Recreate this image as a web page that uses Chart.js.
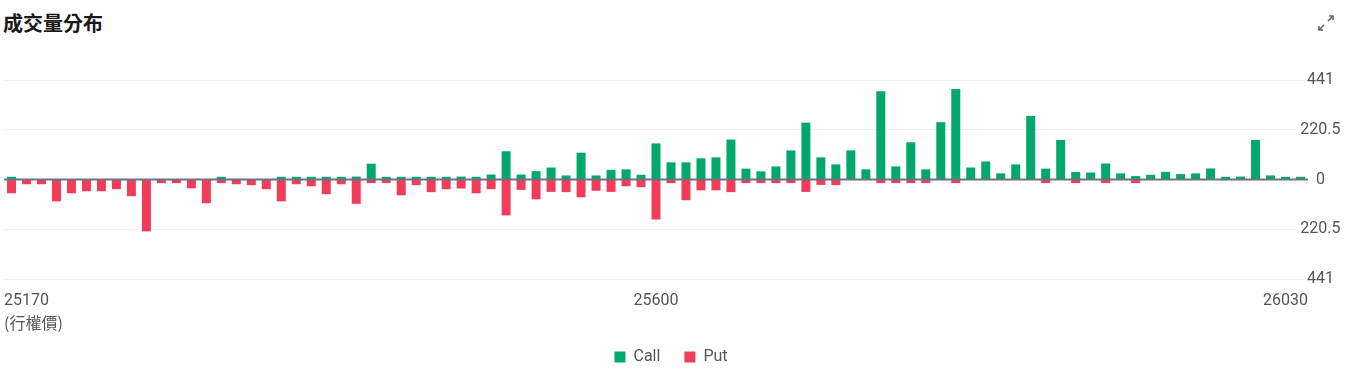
<html>
<head>
<meta charset="utf-8">
<script src="https://cdn.jsdelivr.net/npm/chart.js@4"></script>
<style>
  body { margin: 0; background: #fff; font-family: Roboto, "Noto Sans CJK TC", sans-serif; }
  #title { position: absolute; left: 3px; top: 8px; font-size: 20px; font-weight: 600; color: #1a1a1a;
           font-family: "Noto Sans CJK TC", sans-serif; }
  #expand { position: absolute; left: 1316px; top: 13px; }
  #wrap { position: absolute; left: 0; top: 0; width: 1346px; height: 378px; }
</style>
</head>
<body>
<div id="title">成交量分布</div>
<svg id="expand" width="20" height="20" viewBox="0 0 20 20">
  <g stroke="#666" stroke-width="1.6" fill="none">
    <line x1="12" y1="8" x2="17" y2="3"/><polyline points="13,3 17,3 17,7"/>
    <line x1="8" y1="12" x2="3" y2="17"/><polyline points="3,13 3,17 7,17"/>
  </g>
</svg>
<div id="wrap"><canvas id="myChart"></canvas></div>
<script>
var strikes = [25170, 25180, 25190, 25200, 25210, 25220, 25230, 25240, 25250, 25260,
  25270, 25280, 25290, 25300, 25310, 25320, 25330, 25340, 25350, 25360,
  25370, 25380, 25390, 25400, 25410, 25420, 25430, 25440, 25450, 25460,
  25470, 25480, 25490, 25500, 25510, 25520, 25530, 25540, 25550, 25560,
  25570, 25580, 25590, 25600, 25610, 25620, 25630, 25640, 25650, 25660,
  25670, 25680, 25690, 25700, 25710, 25720, 25730, 25740, 25750, 25760,
  25770, 25780, 25790, 25800, 25810, 25820, 25830, 25840, 25850, 25860,
  25870, 25880, 25890, 25900, 25910, 25920, 25930, 25940, 25950, 25960,
  25970, 25980, 25990, 26000, 26010, 26020, 26030];

var callVolumes = [12, 0, 0, 0, 0, 0, 0, 0, 0, 0,
  0, 0, 0, 0, 12, 0, 0, 0, 12, 12,
  12, 12, 12, 13, 70, 12, 12, 12, 12, 12,
  13, 12, 22, 125, 22, 37, 53, 18, 119, 18,
  43, 45, 21, 160, 76, 76, 94, 98, 177, 48,
  36, 58, 129, 252, 98, 67, 129, 45, 391, 58,
  165, 45, 254, 401, 53, 80, 27, 67, 282, 48,
  175, 33, 31, 71, 27, 15, 21, 34, 24, 27,
  49, 12, 13, 175, 18, 12, 12];

var putVolumes = [61, 21, 21, 97, 61, 52, 52, 43, 74, 230,
  16, 16, 39, 105, 16, 21, 25, 43, 97, 21,
  30, 65, 21, 108, 16, 16, 70, 25, 56, 43,
  40, 61, 43, 159, 46, 88, 55, 56, 79, 50,
  55, 30, 34, 177, 16, 92, 48, 48, 56, 16,
  16, 16, 16, 55, 24, 25, 0, 0, 16, 16,
  16, 16, 0, 16, 0, 0, 0, 0, 0, 16,
  0, 16, 0, 16, 0, 16, 0, 0, 0, 0,
  0, 0, 0, 0, 0, 0, 0];

var yTicks = [-441, -220.5, 0, 220.5, 441];
// strike labels shown at left edge, middle and right edge of the axis
var xLabelIndex = [0, 43, 86];

var GREEN = '#00a86b';
var RED = '#f23c5a';

// zero line drawn over the bars
var zeroLine = {
  id: 'zeroLine',
  afterDatasetsDraw: function (chart) {
    var y = chart.scales.y.getPixelForValue(0);
    var ctx = chart.ctx;
    ctx.save();
    ctx.strokeStyle = '#6b7280';
    ctx.lineWidth = 2;
    ctx.beginPath();
    ctx.moveTo(chart.chartArea.left, y);
    ctx.lineTo(chart.chartArea.right, y);
    ctx.stroke();
    ctx.restore();
  }
};

var n = strikes.length;
var ctx = document.getElementById('myChart').getContext('2d');
var chart = new Chart(ctx, {
  type: 'bar',
  data: {
    labels: strikes,
    datasets: [
      { label: 'Call', data: callVolumes, backgroundColor: GREEN },
      { label: 'Put', data: putVolumes.map(function (v) { return -v; }), backgroundColor: RED }
    ]
  },
  options: {
    animation: false,
    responsive: true,
    maintainAspectRatio: false,
    layout: { padding: { top: 80, left: 3, right: 7, bottom: 3 } },
    datasets: { bar: { barPercentage: 0.6, categoryPercentage: 1.0 } },
    scales: {
      x: { stacked: true, display: false },
      xl: {
        type: 'linear',
        position: 'bottom',
        offset: false,
        min: -0.5, max: n - 0.5,
        afterBuildTicks: function (axis) {
          axis.ticks = [{ value: -0.5 }, { value: (n - 1) / 2 }, { value: n - 0.5 }];
        },
        afterFit: function (axis) { axis.height = 46; },
        grid: { display: false, offset: false },
        border: { display: false },
        ticks: {
          maxRotation: 0, align: 'inner', padding: 4,
          color: '#555', font: { family: 'Roboto', size: 16 },
          callback: function (v, i) { return String(strikes[xLabelIndex[i]]); }
        },
        title: {
          display: true, text: '(行權價)', align: 'start', color: '#555',
          font: { family: '"Noto Sans CJK TC"', size: 16 }, padding: { top: 0, bottom: -8 }
        }
      },
      y: {
        stacked: true,
        position: 'right',
        min: -441, max: 441,
        afterBuildTicks: function (axis) {
          axis.ticks = yTicks.map(function (v) { return { value: v }; });
        },
        afterFit: function (axis) { axis.width = 31; },
        grid: { color: '#f0f0f0', drawTicks: false },
        border: { display: false },
        ticks: {
          mirror: true, crossAlign: 'center', padding: 32.5,
          showLabelBackdrop: true, backdropColor: '#ffffff',
          backdropPadding: { left: 4, right: 1, top: 0, bottom: 0 },
          color: '#555', font: { family: 'Roboto', size: 16 },
          callback: function (v) { return String(Math.abs(v)); }
        }
      }
    },
    plugins: {
      legend: {
        position: 'bottom',
        labels: { boxWidth: 11, boxHeight: 11, padding: 24, color: '#555', font: { family: 'Roboto', size: 16 } }
      },
      tooltip: { enabled: false }
    }
  },
  plugins: [zeroLine]
});
</script>
</body>
</html>
